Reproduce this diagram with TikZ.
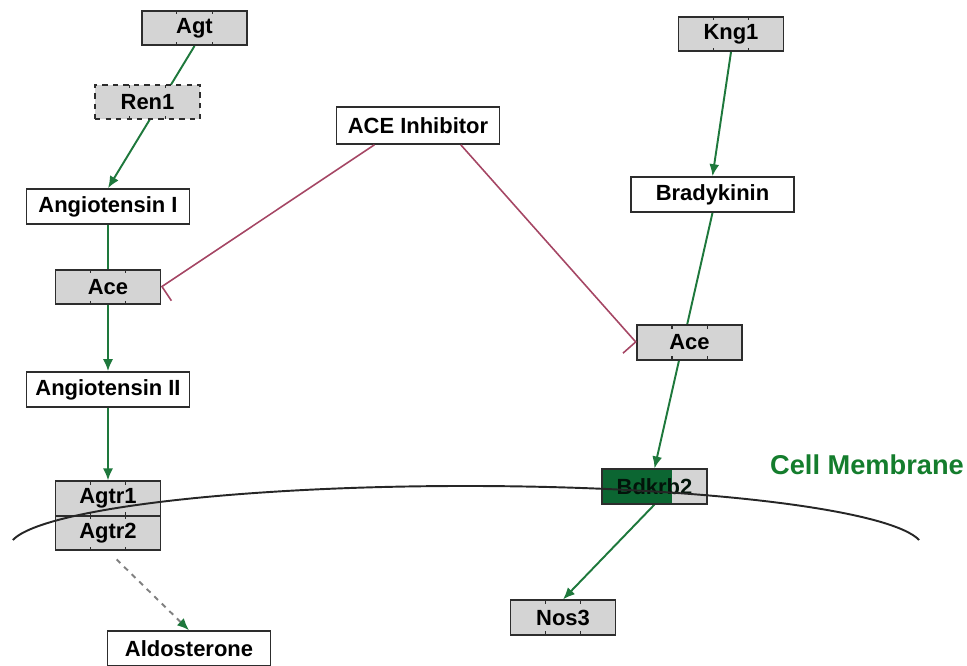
\documentclass[tikz,border=0pt]{standalone}
\usepackage{fontspec}
\setmainfont{Liberation Sans}
\usetikzlibrary{arrows.meta,calc,backgrounds}
\definecolor{pathGreen}{RGB}{30,120,60}
\definecolor{inhibRed}{RGB}{165,70,100}
\definecolor{geneGray}{RGB}{212,212,212}
\definecolor{boxLine}{RGB}{45,45,45}
\definecolor{receptorGreen}{RGB}{12,102,50}
\definecolor{membraneGreen}{RGB}{20,125,45}

\begin{document}
\begin{tikzpicture}[x=0.02cm,y=-0.02cm,
    font=\fontsize{12.5}{15}\selectfont\bfseries,
    ticks/.style={path picture={
      \foreach \f in {0.333,0.667}{
        \draw[boxLine,line width=0.6pt] ($(path picture bounding box.north west)!\f!(path picture bounding box.north east)$) -- ++(0,-0.07cm);
        \draw[boxLine,line width=0.6pt] ($(path picture bounding box.south west)!\f!(path picture bounding box.south east)$) -- ++(0,0.07cm);}}},
    gene/.style={draw=boxLine,line width=0.9pt,fill=geneGray,minimum width=2.1cm,minimum height=0.69cm,inner sep=0pt,ticks},
    entity/.style={draw=boxLine,line width=0.9pt,fill=white,minimum width=3.26cm,minimum height=0.7cm,inner sep=0pt},
    receptor/.style={draw=boxLine,line width=0.9pt,fill=geneGray,minimum width=2.1cm,minimum height=0.69cm,inner sep=0pt,
      text=black!80!receptorGreen,
      path picture={\fill[receptorGreen] (path picture bounding box.north west) rectangle ($(path picture bounding box.south west)!0.67!(path picture bounding box.south east)$);}},
    act/.style={pathGreen,line width=1.1pt,-{Latex[length=2.4mm,width=2mm]}},
    inhib/.style={inhibRed,line width=0.9pt,-{Bar[width=6.8mm,harpoon]}}]
    \useasboundingbox (0,0) rectangle (967,666);

    % left branch
    \node[gene] (agt) at (194.5,28) {Agt};
    \node[gene,dashed] (ren1) at (147.5,102) {Ren1};
    \node[entity] (angI) at (108,206.5) {Angiotensin I};
    \node[gene] (aceL) at (108,287) {Ace};
    \node[entity] (angII) at (108,389.5) {Angiotensin II};
    \node[gene] (agtr1) at (108,498.5) {Agtr1};
    \node[gene] (agtr2) at (108,533) {Agtr2};
    \node[entity] (aldo) at (189,648.5) {Aldosterone};

    \node[entity,minimum height=0.74cm] (aceInh) at (418,125.5) {ACE Inhibitor};

    % right branch
    \node[gene] (kng1) at (731,34) {Kng1};
    \node[entity] (brady) at (712.5,194.5) {Bradykinin};
    \node[gene] (aceR) at (689.5,342.5) {Ace};
    \node[receptor] (bdkrb2) at (654.5,486.5) {Bdkrb2};
    \node[gene] (nos3) at (563,617.5) {Nos3};

    \begin{scope}[on background layer]
      \draw[act] (agt.south) -- (angI.north);
      \draw[act] (angI.south) -- (angII.north);
      \draw[act] (angII.south) -- (agtr1.north);
      \draw[act,draw=gray,dashed,shorten <=0.24cm,-{Latex[length=2.4mm,width=2mm,color=pathGreen]}] (agtr2.south) -- (aldo.north);
      \draw[act] (kng1.south) -- (brady.north);
      \draw[act] (brady.south) -- (bdkrb2.north);
      \draw[act] (bdkrb2.south) -- (nos3.north);
    \end{scope}
    \draw[inhib] ($(aceInh.south west)!0.235!(aceInh.south east)$) -- (aceL.east);
    \draw[inhib,-{Bar[width=6.8mm,harpoon,swap]}] ($(aceInh.south west)!0.76!(aceInh.south east)$) -- (aceR.west);

    % membrane
    \draw[black!85,line width=1.1pt] (12.8,540) arc[start angle=187.4, end angle=352.6, x radius=457, y radius=62];
    \node[text=membraneGreen,font=\fontsize{15.5}{18}\selectfont\bfseries] (membrane) at (867,465) {Cell Membrane};
\end{tikzpicture}
\end{document}
